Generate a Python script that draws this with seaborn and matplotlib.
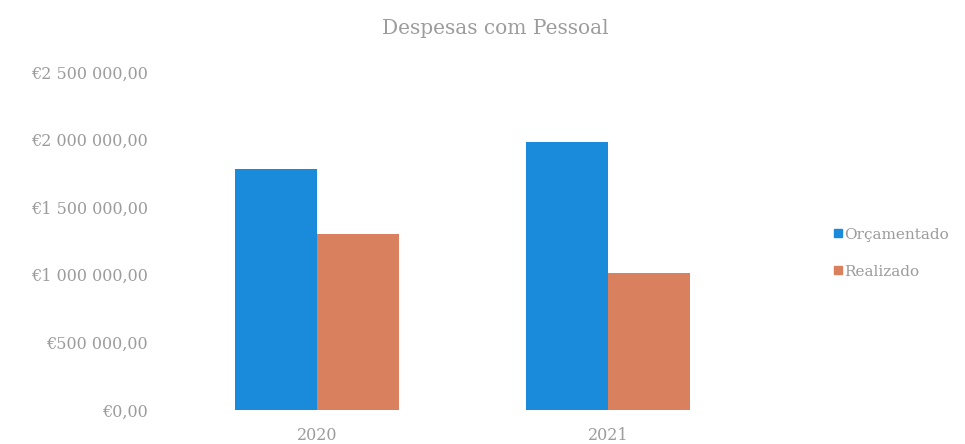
import matplotlib
matplotlib.use("Agg")
import matplotlib.pyplot as plt
from matplotlib.ticker import FuncFormatter
from matplotlib.lines import Line2D
import seaborn as sns
import pandas as pd

# Personnel expenses per year: budgeted vs. executed (EUR)
years = ["2020", "2021"]
orcamentado = [1780000, 1985000]
realizado = [1305000, 1015000]
series_names = ["Orçamentado", "Realizado"]
y_ticks = [0, 500000, 1000000, 1500000, 2000000, 2500000]

colors = ["#1a8bdb", "#d9805f"]
text_color = "#9c9c9c"

df = pd.DataFrame({
    "Ano": years * 2,
    "Série": [series_names[0]] * len(years) + [series_names[1]] * len(years),
    "Valor": orcamentado + realizado,
})

sns.set_theme(style="white")
plt.rcParams["font.family"] = ["DejaVu Serif", "Liberation Serif"]

fig = plt.figure(figsize=(9.65, 4.44), dpi=100)
ax = fig.add_axes([0.1777, 0.0766, 0.6033, 0.7614])

sns.barplot(data=df, x="Ano", y="Valor", hue="Série", order=years,
            hue_order=series_names, palette=colors, width=0.565, gap=0,
            saturation=1, edgecolor="none", ax=ax, legend=False)

ax.set_xlim(-0.5, 1.5)
ax.set_ylim(0, 2500000)
ax.set_yticks(y_ticks)


def euro(v, pos):
    v = int(round(v))
    s = f"{v:,}".replace(",", " ")
    return f"€{s},00"


ax.yaxis.set_major_formatter(FuncFormatter(euro))
ax.set_xlabel("")
ax.set_ylabel("")
sns.despine(ax=ax, left=True, bottom=True)
ax.tick_params(axis="both", length=0, colors=text_color, labelsize=11.5)
ax.tick_params(axis="y", pad=17)
ax.tick_params(axis="x", pad=12)

fig.text(0.513, 0.935, "Despesas com Pessoal", ha="center", va="center",
         color=text_color, fontsize=14.5)

handles = [Line2D([0], [0], marker="s", linestyle="none", markersize=5.5,
                  markerfacecolor=c, markeredgecolor=c) for c in colors]
fig.legend(handles, series_names, loc="center left",
           bbox_to_anchor=(0.862, 0.43), frameon=False, fontsize=11,
           labelcolor=text_color, handletextpad=0.0, labelspacing=1.5,
           handlelength=0.8, borderaxespad=0, borderpad=0)

fig.savefig("out.png", dpi=100, facecolor="white")
